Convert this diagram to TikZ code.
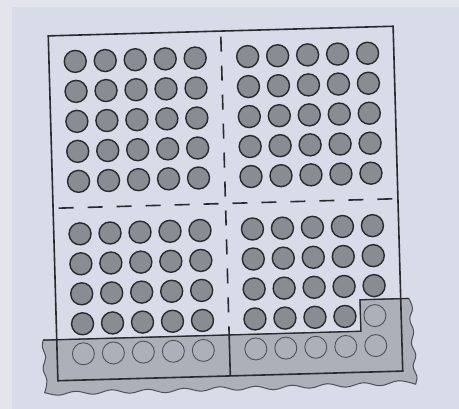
\documentclass[tikz,border=0pt]{standalone}
\definecolor{paper}{RGB}{216,219,232}
\definecolor{margin}{RGB}{228,228,236}
\definecolor{dotfill}{RGB}{136,140,147}
\definecolor{stripfill}{RGB}{172,176,184}
\definecolor{lightring}{RGB}{78,82,88}
\definecolor{ink}{RGB}{40,42,46}
\begin{document}
\begin{tikzpicture}[x=1pt,y=-1pt,
  darkdot/.style={fill=dotfill,draw=ink,line width=1.4pt},
  lightdot/.style={draw=lightring,line width=0.9pt},
  frame/.style={draw=ink,line width=1.6pt},
  halfdash/.style={draw=ink,line width=1.6pt,dash pattern=on 0pt off 7pt on 15pt off 7pt},
  stripedge/.style={draw=lightring,line width=1pt,fill=stripfill}]
\useasboundingbox (0,0) rectangle (459,409);
\fill[margin] (0,0) rectangle (459,409);
\fill[paper] (12,7) rectangle (459,409);
\begin{scope}[shift={(225.5,203.5)},rotate=1.6]
  % dark dots
  \foreach \r in {0,...,9}{
    \foreach \c in {0,...,9}{
      \pgfmathsetmacro{\xx}{\c<5 ? -146.25+30*\c : 26.25+30*(\c-5)}
      \pgfmathsetmacro{\yy}{\r<5 ? -146.25+30*\r : 26.25+30*(\r-5)}
      \pgfmathtruncatemacro{\hidden}{(\r==9) || (\r==8 && \c==9) ? 1 : 0}
      \ifnum\hidden=0
        \path[darkdot] (\xx,\yy) circle[radius=11];
      \fi
    }
  }
  % grey strip
  \path[stripedge] (-186,131.5) -- (131.75,131.5) -- (131.75,100) -- (180.5,100)
    -- plot[smooth,tension=0.7] coordinates {(180.5,100) (184,110) (181,121) (184.5,133) (182,145) (186,157) (183,168) (186.5,178) (185,186)}
    -- plot[smooth,tension=0.6] coordinates {(185,186) (168,182) (150,186.5) (133,183) (115,187) (97,183) (79,187) (61,183.5) (43,187.5) (25,183.5) (7,187) (-11,183) (-29,187) (-47,183.5) (-65,187.5) (-83,183.5) (-101,187) (-119,183) (-137,187) (-155,183.5) (-172,187) (-186,184)}
    -- plot[smooth,tension=0.7] coordinates {(-186,184) (-183.5,172) (-187,160) (-184,149) (-187,139) (-186,131.5)}
    -- cycle;
  \draw[ink,line width=1.3pt] (-186,131.5) -- (131.75,131.5) -- (131.75,100) -- (180.5,100);
  % light dots
  \foreach \c in {0,...,9}{
    \pgfmathsetmacro{\xx}{\c<5 ? -146.25+30*\c : 26.25+30*(\c-5)}
    \path[lightdot] (\xx,146.25) circle[radius=11];
  }
  \path[lightdot] (146.25,116.25) circle[radius=11];
  % frame and dividers
  \coordinate (C) at (0,0);
  \coordinate (T) at (0,-172.5);
  \coordinate (L) at (-172.5,0);
  \coordinate (R) at (172.5,0);
  \coordinate (S) at (0,131.5);
  \coordinate (B) at (0,172.5);
  \path[frame] (-172.5,-172.5) rectangle (172.5,172.5);
  \path[halfdash] (C) -- (T);
  \path[halfdash] (C) -- (L);
  \path[halfdash] (C) -- (R);
  \path[halfdash] (C) -- (S);
  \path[frame] (S) -- (B);
\end{scope}
\end{tikzpicture}
\end{document}
